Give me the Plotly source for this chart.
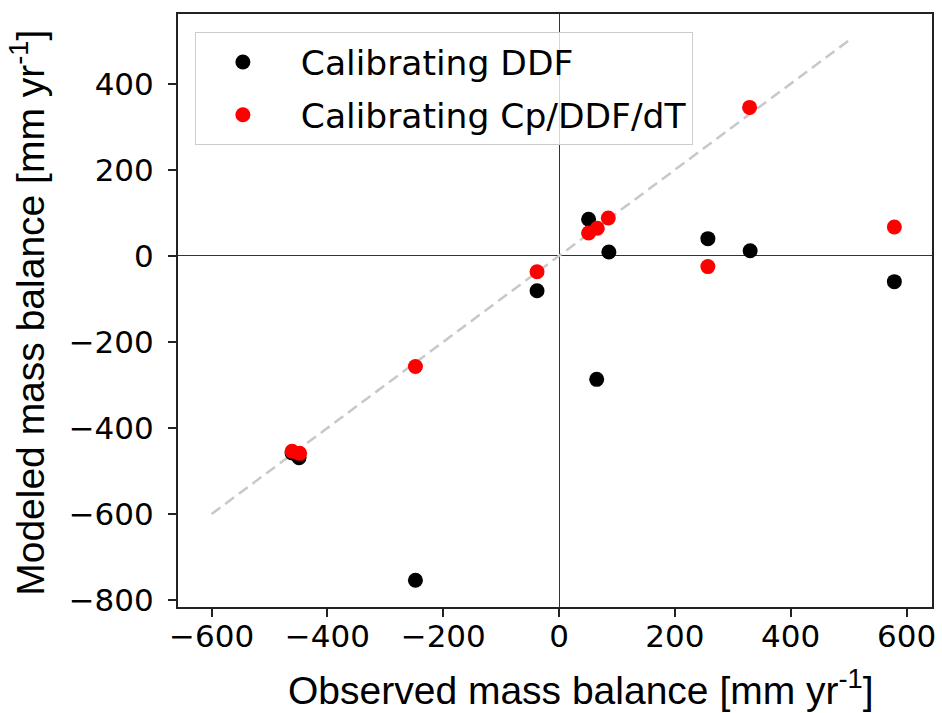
import plotly.graph_objects as go

# Observed vs modeled mass balance [mm yr-1]
obs_ddf = [-461, -449, -248, -38, 51, 65, 86, 257, 330, 579]
mod_ddf = [-458, -469, -754, -81, 85, -287, 9, 40, 12, -60]
obs_cp = [-461, -448, -248, -38, 51, 66, 85, 257, 329, 579]
mod_cp = [-454, -459, -257, -37, 53, 64, 88, -25, 345, 67]
one_to_one = [-600, 500]
x_ticks = [-600, -400, -200, 0, 200, 400, 600]
y_ticks = [-800, -600, -400, -200, 0, 200, 400]

W, H = 942, 713
L, R, T, B = 178, 936, 14, 607

fig = go.Figure()
fig.add_trace(go.Scatter(x=one_to_one, y=one_to_one, mode="lines",
                         line=dict(color="#c8c8c8", width=2.5, dash="11px,6px"),
                         showlegend=False, hoverinfo="skip"))
fig.add_trace(go.Scatter(x=obs_ddf, y=mod_ddf, mode="markers", name=" Calibrating DDF",
                         legendgroup="a",
                         marker=dict(color="black", size=15)))
fig.add_trace(go.Scatter(x=obs_cp, y=mod_cp, mode="markers", name=" Calibrating Cp/DDF/dT",
                         legendgroup="b",
                         marker=dict(color="red", size=15)))

axis_common = dict(showline=True, linecolor="#222222", linewidth=2, mirror=True,
                   ticks="outside", ticklen=8, tickwidth=1.5, tickcolor="#222222",
                   showgrid=False, zeroline=True, zerolinecolor="#333333", zerolinewidth=1.2,
                   tickfont=dict(family="DejaVu Sans", size=31, color="black"))

fig.update_layout(
    width=W, height=H,
    margin=dict(l=L, r=W - R, t=T, b=H - B),
    paper_bgcolor="white", plot_bgcolor="white",
    xaxis=dict(range=[-658, 644], tickvals=x_ticks, ticklabelstandoff=-7, **axis_common),
    yaxis=dict(range=[-816, 562], tickvals=y_ticks, ticklabelstandoff=8, **axis_common),
    legend=dict(x=0.0224, y=0.9696, xanchor="left", yanchor="top",
                bgcolor="rgba(255,255,255,0.8)", bordercolor="#cccccc", borderwidth=1,
                font=dict(family="DejaVu Sans", size=34.5, color="black"),
                itemwidth=84, tracegroupgap=5),
    showlegend=True,
    annotations=[
        dict(text="Observed mass balance [mm yr<sup>-1</sup>]", xref="paper", yref="paper",
             x=(583 - L) / (R - L), y=(B - 687) / (B - T), xanchor="center", yanchor="middle",
             showarrow=False, font=dict(family="Liberation Sans", size=39, color="black")),
        dict(text="Modeled mass balance [mm yr<sup>-1</sup>]", xref="paper", yref="paper",
             x=(26 - L) / (R - L), y=(B - 313) / (B - T), xanchor="center", yanchor="middle",
             textangle=-90, showarrow=False,
             font=dict(family="Liberation Sans", size=39, color="black")),
    ],
)

fig.write_html("out.html")
